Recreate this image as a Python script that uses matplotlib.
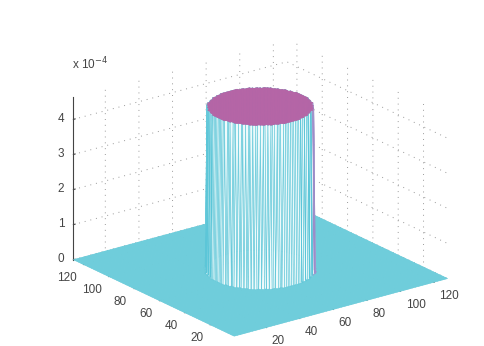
import numpy as np
import matplotlib
matplotlib.use("Agg")
import matplotlib.pyplot as plt

plt.rcParams["font.family"] = ["Liberation Sans", "DejaVu Sans"]

# surface values
grid_size = 128
centre = 64
radius = 25.5
height = 4.65e-4
floor = 0.0

x_ticks = [20, 40, 60, 80, 100, 120]
y_ticks = [20, 40, 60, 80, 100, 120]
z_ticks = [0, 1e-4, 2e-4, 3e-4, 4e-4]
z_labels = ["0", "1", "2", "3", "4"]

ground_col = "#6fcddb"
top_col = "#b565a6"
wall_col = "#5cc6d8"
side_col = "#9c8cc8"
text_col = "#444444"

x = np.arange(1, grid_size + 1)
X, Y = np.meshgrid(x, x)
Z = np.where((X - centre) ** 2 + (Y - centre) ** 2 <= radius ** 2, height, floor)

# colour each cell by what its corners are
hi = Z > 0
n_hi = hi[:-1, :-1].astype(int) + hi[1:, :-1] + hi[:-1, 1:] + hi[1:, 1:]
faces = np.empty(n_hi.shape + (4,))
edges = np.empty(n_hi.shape + (4,))
faces[:] = matplotlib.colors.to_rgba(ground_col)
edges[:] = matplotlib.colors.to_rgba(ground_col)
faces[n_hi == 4] = matplotlib.colors.to_rgba(top_col)
edges[n_hi == 4] = matplotlib.colors.to_rgba(top_col)
wall = (n_hi > 0) & (n_hi < 4)
faces[wall] = matplotlib.colors.to_rgba("#eefafb")
edges[wall] = matplotlib.colors.to_rgba(wall_col)

# purple strip down the right hand side of the wall
across = (X[:-1, :-1] - centre) * 0.796 - (Y[:-1, :-1] - centre) * 0.605
edges[wall & (across > radius * 0.96)] = matplotlib.colors.to_rgba(side_col)

fig = plt.figure(figsize=(4.84, 3.46), dpi=100)
ax = fig.add_axes([0.0247, -0.261, 1.0, 1.4], projection="3d", computed_zorder=False)
ax.set_proj_type("ortho")
ax.view_init(elev=21, azim=-127)
ax.set_box_aspect((267.6, 267.6, 175), zoom=0.835)

surf = ax.plot_surface(X, Y, Z, rstride=1, cstride=1, facecolors=faces,
                       shade=False, linewidth=0.4)
surf.set_edgecolors(edges.reshape(-1, 4))

ax.set_xlim(1, grid_size)
ax.set_ylim(1, grid_size)
ax.set_zlim(0, height)
ax.set_xticks(x_ticks)
ax.set_yticks(y_ticks)
ax.set_zticks(z_ticks)
ax.set_zticklabels(z_labels)

for axis in (ax.xaxis, ax.yaxis, ax.zaxis):
    axis.set_pane_color((1, 1, 1, 0))
    axis.pane.set_edgecolor((1, 1, 1, 0))
    axis.line.set_color((1, 1, 1, 0))
    axis._axinfo["grid"].update(color="#999999", linewidth=0.7, linestyle=(0, (1, 5)))
    axis._axinfo["tick"].update(inward_factor=0.0, outward_factor=0.1)
    axis.set_tick_params(labelsize=8.5, colors=text_col, width=0.5, pad=-2)
ax.zaxis.line.set_color("#444444")
ax.zaxis.line.set_linewidth(0.8)

for lab in ax.get_yticklabels():
    lab.set_ha("right")
for lab in ax.get_xticklabels():
    lab.set_ha("left")
for lab in ax.get_zticklabels():
    lab.set_va("center")

fig.text(72 / 484, 1 - 69 / 346, r"x 10$^{-4}$", fontsize=8.5, color=text_col)

fig.savefig("out.png", dpi=100)
